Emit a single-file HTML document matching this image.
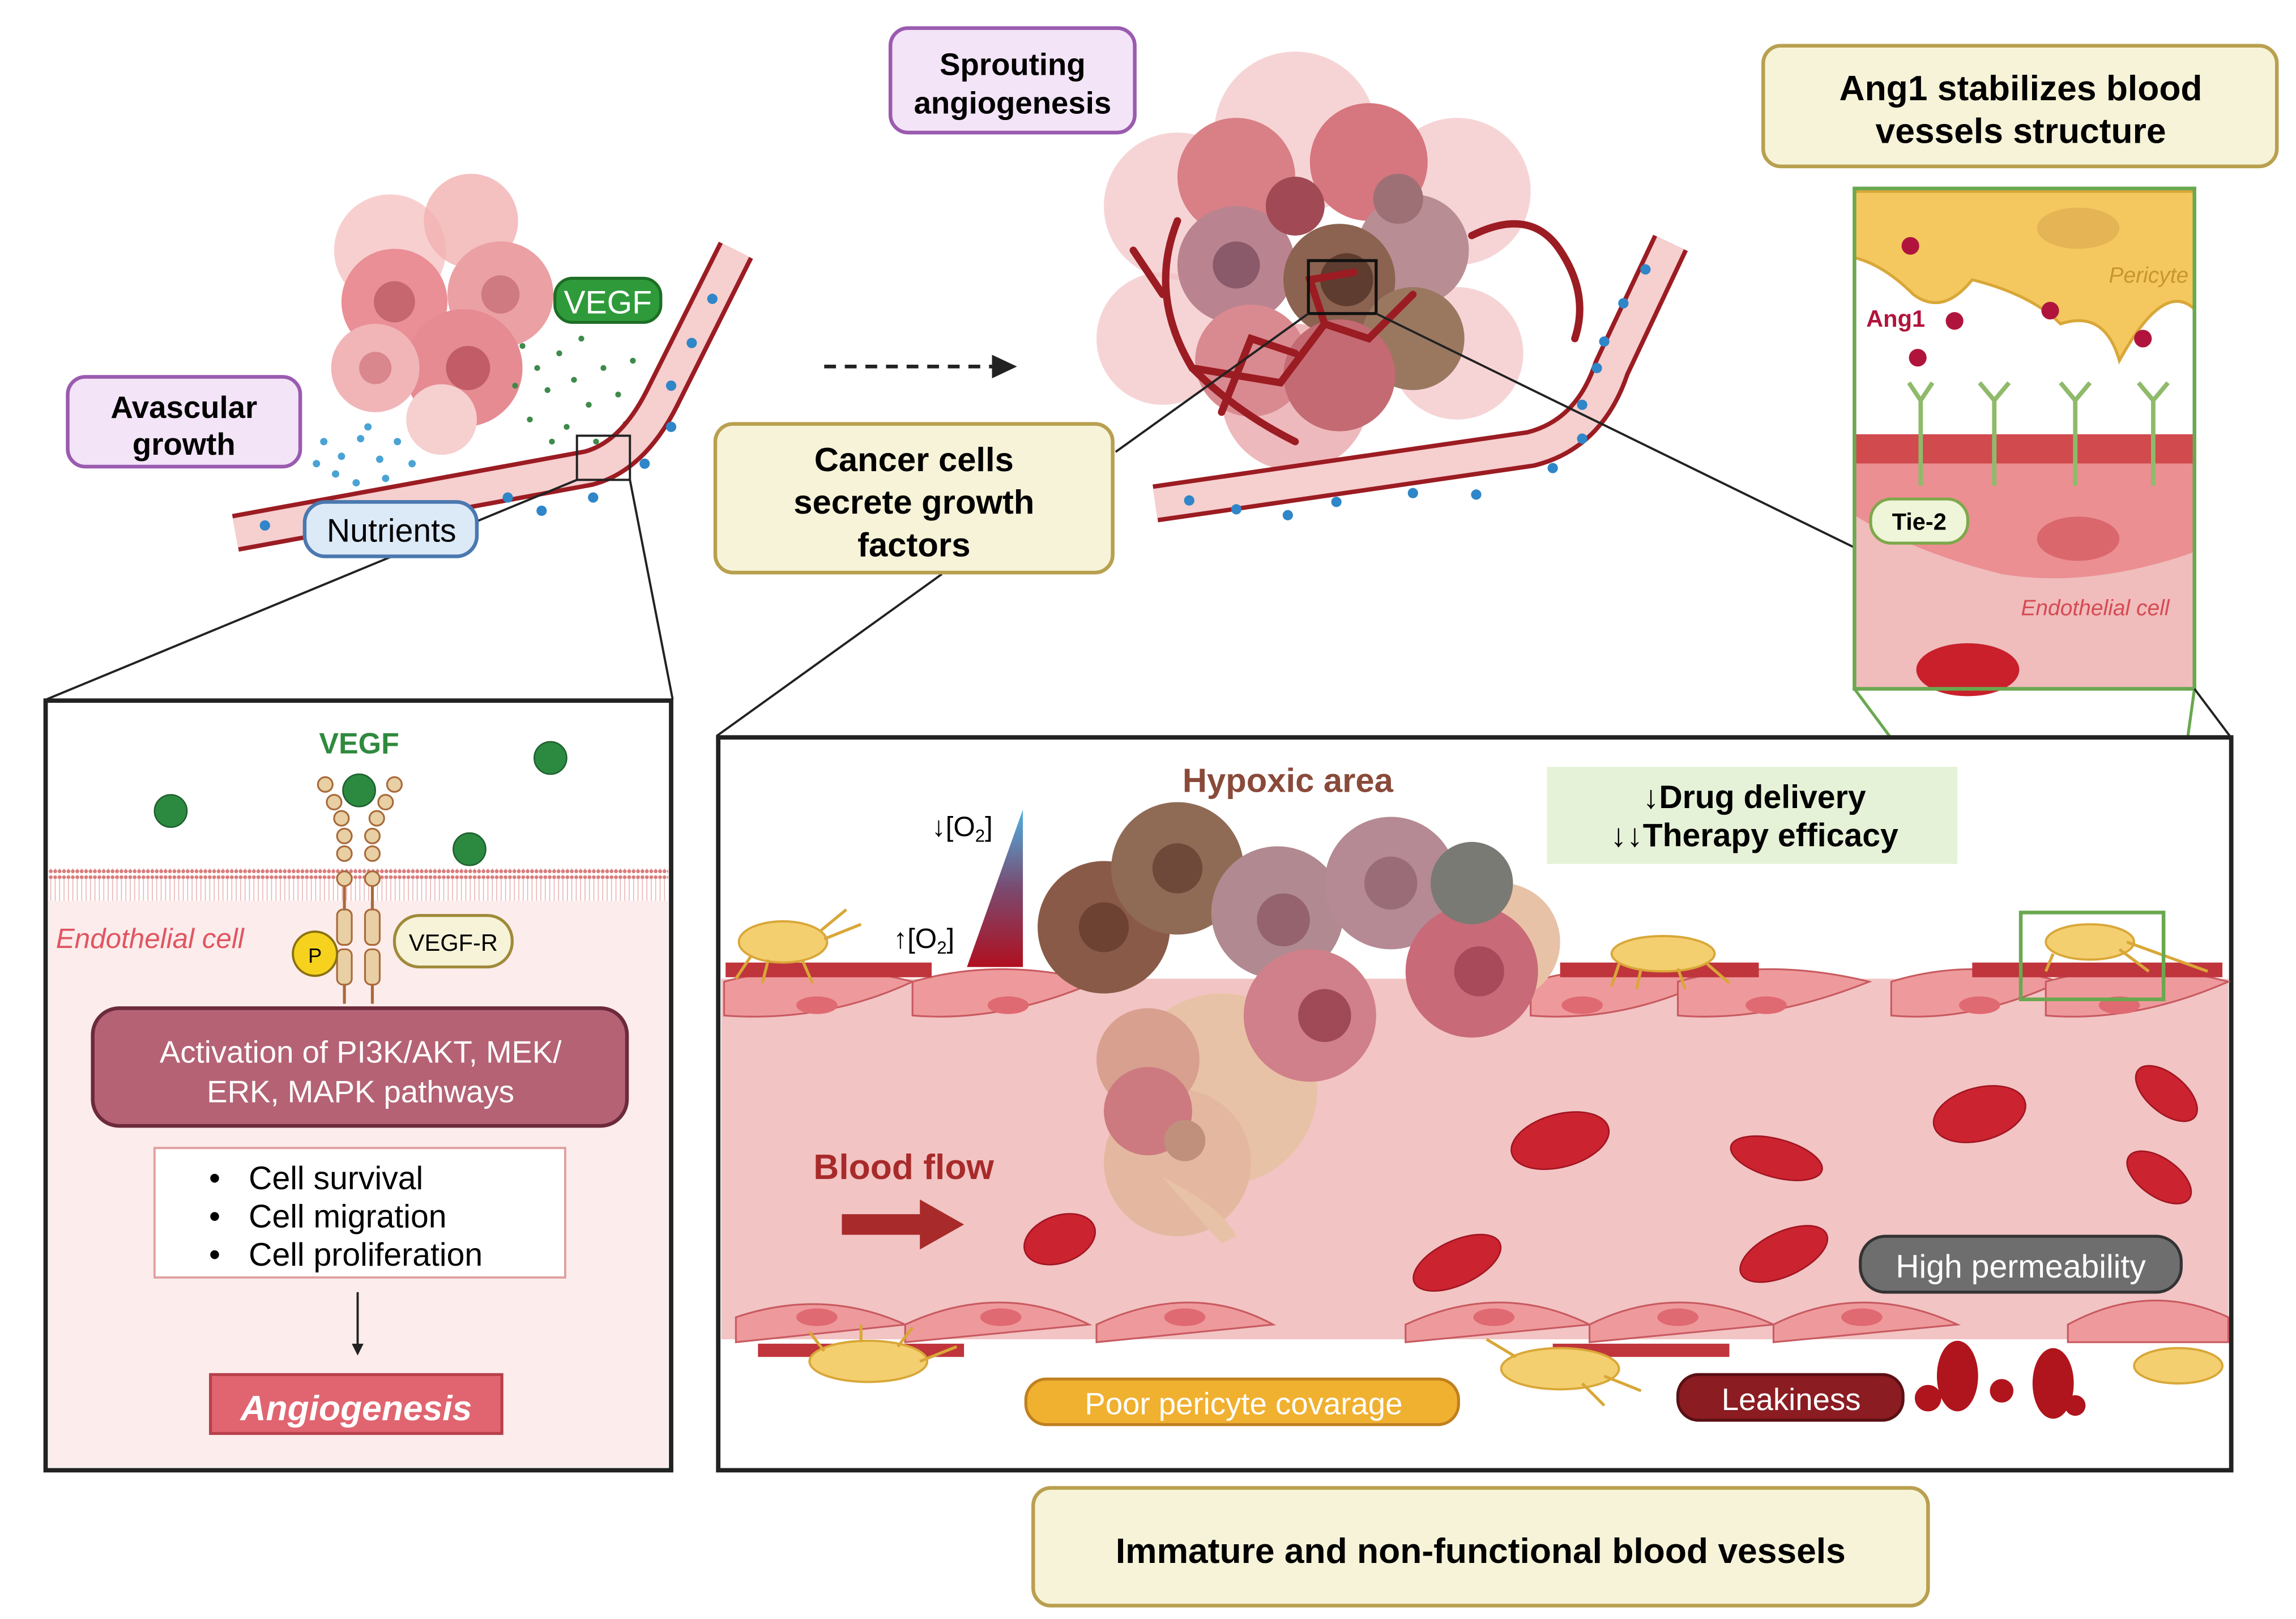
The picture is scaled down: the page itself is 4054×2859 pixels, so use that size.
<!DOCTYPE html>
<html><head><meta charset="utf-8"><style>
html,body{margin:0;padding:0;background:#fff;}
svg{display:block;}
text{font-family:"Liberation Sans",Arial,sans-serif;}
</style></head><body>
<svg width="4054" height="2859" viewBox="0 0 1560 1100" xmlns="http://www.w3.org/2000/svg">
<defs>
<pattern id="mem" width="3" height="22" patternUnits="userSpaceOnUse"><rect width="3" height="22" fill="#fff"/><circle cx="1.5" cy="2" r="1.3" fill="#d97c7c"/><line x1="1.5" y1="3" x2="1.5" y2="19" stroke="#eab0b0" stroke-width="0.6"/><circle cx="1.5" cy="20" r="1.3" fill="#d97c7c"/></pattern>
<linearGradient id="o2" x1="0" y1="0" x2="0" y2="1"><stop offset="0" stop-color="#4fb0e0"/><stop offset="0.5" stop-color="#7a4a70"/><stop offset="1" stop-color="#b01020"/></linearGradient>
</defs>

<!-- ========== TOP LEFT: avascular growth ========== -->
<g>
 <circle cx="265" cy="170" r="38" fill="#f6c3c3" opacity="0.8"/>
 <circle cx="320" cy="150" r="32" fill="#f1b0b0" opacity="0.8"/>
 <circle cx="340" cy="200" r="36" fill="#eba0a3"/>
 <circle cx="268" cy="205" r="36" fill="#e98f95"/>
 <circle cx="315" cy="250" r="40" fill="#e58b91"/>
 <circle cx="255" cy="250" r="30" fill="#f1b5b8"/>
 <circle cx="300" cy="285" r="24" fill="#f6cfcf"/>
 <circle cx="268" cy="205" r="14" fill="#c66770"/>
 <circle cx="340" cy="200" r="13" fill="#cf7a80"/>
 <circle cx="318" cy="250" r="15" fill="#c25c66"/>
 <circle cx="255" cy="250" r="11" fill="#d9868c"/>
</g>
<g fill="#3e8a4a">
 <circle cx="355" cy="235" r="2"/><circle cx="365" cy="250" r="2"/><circle cx="380" cy="240" r="2"/><circle cx="372" cy="265" r="2"/><circle cx="390" cy="258" r="2"/><circle cx="400" cy="275" r="2"/><circle cx="385" cy="290" r="2"/><circle cx="410" cy="250" r="2"/><circle cx="420" cy="268" r="2"/><circle cx="360" cy="285" r="2"/><circle cx="375" cy="300" r="2"/><circle cx="405" cy="300" r="2"/><circle cx="425" cy="288" r="2"/><circle cx="350" cy="262" r="2"/><circle cx="395" cy="230" r="2"/><circle cx="430" cy="245" r="2"/>
</g>
<g fill="#4aa3d4">
 <circle cx="220" cy="300" r="2.5"/><circle cx="232" cy="310" r="2.5"/><circle cx="245" cy="298" r="2.5"/><circle cx="258" cy="312" r="2.5"/><circle cx="270" cy="300" r="2.5"/><circle cx="228" cy="322" r="2.5"/><circle cx="242" cy="328" r="2.5"/><circle cx="262" cy="325" r="2.5"/><circle cx="280" cy="315" r="2.5"/><circle cx="215" cy="315" r="2.5"/><circle cx="250" cy="290" r="2.5"/>
</g>
<path d="M160 362 L400 318 Q430 310 450 270 L500 170" fill="none" stroke="#9b1c22" stroke-width="26" stroke-linejoin="round"/>
<path d="M160 362 L400 318 Q430 310 450 270 L500 170" fill="none" stroke="#f6cfcf" stroke-width="20" stroke-linejoin="round"/>
<g fill="#2f86c8"><circle cx="180" cy="357" r="3.5"/><circle cx="345" cy="338" r="3.5"/><circle cx="368" cy="347" r="3.5"/><circle cx="403" cy="338" r="3.5"/><circle cx="438" cy="315" r="3.5"/><circle cx="456" cy="290" r="3.5"/><circle cx="456" cy="262" r="3.5"/><circle cx="470" cy="233" r="3.5"/><circle cx="484" cy="203" r="3.5"/></g>
<rect x="392" y="296" width="36" height="30" fill="none" stroke="#222" stroke-width="1.5"/>
<line x1="392" y1="326" x2="32" y2="475" stroke="#222" stroke-width="1.5"/>
<line x1="428" y1="326" x2="457" y2="475" stroke="#222" stroke-width="1.5"/>

<rect x="46" y="256" width="158" height="61" rx="12" fill="#f3e4f7" stroke="#9a5bb0" stroke-width="2.5"/>
<text x="125" y="284" font-size="21" font-weight="bold" text-anchor="middle">Avascular</text>
<text x="125" y="309" font-size="21" font-weight="bold" text-anchor="middle">growth</text>
<rect x="377" y="189" width="72" height="30" rx="12" fill="#2f9a3a" stroke="#1c6e25" stroke-width="2"/>
<text x="413" y="213" font-size="22" fill="#fff" text-anchor="middle">VEGF</text>
<rect x="207" y="341" width="117" height="37" rx="14" fill="#dce9f7" stroke="#4a78b0" stroke-width="2.5"/>
<text x="266" y="368" font-size="22" text-anchor="middle">Nutrients</text>

<line x1="560" y1="249" x2="676" y2="249" stroke="#222" stroke-width="2.5" stroke-dasharray="8,6"/>
<polygon points="674,241 691,249 674,257" fill="#222"/>

<!-- ========== TOP MIDDLE ========== -->
<g>
 <circle cx="880" cy="90" r="55" fill="#f2c2c4" opacity="0.7"/>
 <circle cx="800" cy="140" r="50" fill="#f2c2c4" opacity="0.7"/>
 <circle cx="990" cy="130" r="50" fill="#f2c2c4" opacity="0.7"/>
 <circle cx="790" cy="230" r="45" fill="#f2c2c4" opacity="0.7"/>
 <circle cx="990" cy="240" r="45" fill="#f2c2c4" opacity="0.7"/>
 <circle cx="880" cy="270" r="50" fill="#eaa8ab" opacity="0.8"/>
 <circle cx="840" cy="120" r="40" fill="#d97f86"/>
 <circle cx="930" cy="110" r="40" fill="#d6767e"/>
 <circle cx="960" cy="170" r="38" fill="#b88e94"/>
 <circle cx="840" cy="180" r="40" fill="#b9848f"/>
 <circle cx="910" cy="190" r="38" fill="#8c6250"/>
 <circle cx="960" cy="230" r="35" fill="#9a7860"/>
 <circle cx="850" cy="245" r="38" fill="#d98a90"/>
 <circle cx="910" cy="255" r="38" fill="#c46a72"/>
 <circle cx="880" cy="140" r="20" fill="#a14a55"/>
 <circle cx="915" cy="190" r="18" fill="#5e3d30"/>
 <circle cx="840" cy="180" r="16" fill="#8a5a6a"/>
 <circle cx="950" cy="135" r="17" fill="#9d7076"/>
</g>
<g fill="none" stroke="#9b1c22" stroke-width="5" stroke-linecap="round">
 <path d="M800 150 Q780 200 810 250 Q840 280 880 300"/>
 <path d="M810 250 L870 260 L900 220 L930 230 L960 200"/>
 <path d="M900 220 L890 190 L920 185"/>
 <path d="M1000 160 Q1040 140 1060 170 Q1080 200 1070 230"/>
 <path d="M790 200 L770 170"/>
 <path d="M830 280 L850 230 L880 240"/>
</g>
<path d="M785 342 L1040 305 Q1080 295 1095 250 L1135 165" fill="none" stroke="#9b1c22" stroke-width="26" stroke-linejoin="round"/>
<path d="M785 342 L1040 305 Q1080 295 1095 250 L1135 165" fill="none" stroke="#f6cfcf" stroke-width="20" stroke-linejoin="round"/>
<g fill="#2f86c8"><circle cx="808" cy="340" r="3.5"/><circle cx="840" cy="346" r="3.5"/><circle cx="875" cy="350" r="3.5"/><circle cx="908" cy="341" r="3.5"/><circle cx="960" cy="335" r="3.5"/><circle cx="1003" cy="336" r="3.5"/><circle cx="1055" cy="318" r="3.5"/><circle cx="1075" cy="298" r="3.5"/><circle cx="1075" cy="275" r="3.5"/><circle cx="1085" cy="250" r="3.5"/><circle cx="1090" cy="232" r="3.5"/><circle cx="1103" cy="206" r="3.5"/><circle cx="1118" cy="183" r="3.5"/></g>
<rect x="889" y="177" width="46" height="36" fill="none" stroke="#111" stroke-width="2"/>
<line x1="889" y1="213" x2="758" y2="307" stroke="#222" stroke-width="1.5"/>
<line x1="935" y1="213" x2="1260" y2="372" stroke="#222" stroke-width="1.5"/>
<line x1="640" y1="390" x2="487" y2="500" stroke="#222" stroke-width="1.5"/>

<rect x="605" y="19" width="166" height="71" rx="12" fill="#f3e4f7" stroke="#9a5bb0" stroke-width="2.5"/>
<text x="688" y="51" font-size="21" font-weight="bold" text-anchor="middle">Sprouting</text>
<text x="688" y="77" font-size="21" font-weight="bold" text-anchor="middle">angiogenesis</text>

<rect x="486" y="288" width="270" height="101" rx="12" fill="#f6f3d8" stroke="#b9a04f" stroke-width="2.5"/>
<text x="621" y="320" font-size="23" font-weight="bold" text-anchor="middle">Cancer cells</text>
<text x="621" y="349" font-size="23" font-weight="bold" text-anchor="middle">secrete growth</text>
<text x="621" y="378" font-size="23" font-weight="bold" text-anchor="middle">factors</text>

<rect x="1198" y="31" width="349" height="82" rx="12" fill="#f6f3d8" stroke="#b9a04f" stroke-width="2.5"/>
<text x="1373" y="68" font-size="24" font-weight="bold" text-anchor="middle">Ang1 stabilizes blood</text>
<text x="1373" y="97" font-size="24" font-weight="bold" text-anchor="middle">vessels structure</text>

<!-- ========== INSET ========== -->
<g>
 <rect x="1260" y="128" width="231" height="340" fill="#fff"/>
 <path d="M1260 130 L1491 130 L1491 210 Q1470 190 1440 245 Q1430 210 1400 220 Q1380 200 1340 190 Q1320 215 1300 200 Q1280 180 1260 175 Z" fill="#f4c85e" stroke="#d9a738" stroke-width="2"/>
 <ellipse cx="1412" cy="155" rx="28" ry="14" fill="#e5b455"/>
 <text x="1487" y="192" font-size="15" font-style="italic" fill="#c9952e" text-anchor="end">Pericyte</text>
 <rect x="1260" y="295" width="231" height="20" fill="#d04a4e"/>
 <rect x="1260" y="315" width="231" height="153" fill="#f0bcbc"/>
 <path d="M1260 315 L1491 315 L1491 375 Q1420 400 1360 390 Q1300 375 1260 350 Z" fill="#eb8f92"/>
 <ellipse cx="1412" cy="366" rx="28" ry="15" fill="#d9676c"/>
 <ellipse cx="1337" cy="455" rx="35" ry="18" fill="#c9202c"/>
 <text x="1474" y="418" font-size="15" font-style="italic" fill="#d64a52" text-anchor="end">Endothelial cell</text>
 <g fill="#b0143c"><circle cx="1298" cy="167" r="6"/><circle cx="1328" cy="218" r="6"/><circle cx="1303" cy="243" r="6"/><circle cx="1393" cy="211" r="6"/><circle cx="1456" cy="230" r="6"/></g>
 <text x="1268" y="222" font-size="16" font-weight="bold" fill="#b0143c">Ang1</text>
 <g stroke="#8fba6a" stroke-width="3" fill="none">
  <path d="M1297 260 L1305 272 L1313 260 M1305 272 L1305 330"/>
  <path d="M1345 260 L1355 272 L1365 260 M1355 272 L1355 330"/>
  <path d="M1400 260 L1410 272 L1420 260 M1410 272 L1410 330"/>
  <path d="M1453 260 L1463 272 L1473 260 M1463 272 L1463 330"/>
 </g>
 <rect x="1271" y="339" width="66" height="30" rx="14" fill="#eef5d9" stroke="#7ea84a" stroke-width="2"/>
 <text x="1304" y="360" font-size="16" font-weight="bold" text-anchor="middle">Tie-2</text>
 <rect x="1260" y="128" width="231" height="340" fill="none" stroke="#6aa84f" stroke-width="2.5"/>
</g>
<line x1="1260" y1="468" x2="1373" y2="620" stroke="#6aa84f" stroke-width="2"/>
<line x1="1491" y1="468" x2="1470" y2="620" stroke="#6aa84f" stroke-width="2"/>
<line x1="1491" y1="468" x2="1515" y2="500" stroke="#222" stroke-width="1.5"/>

<!-- ========== LEFT PANEL ========== -->
<rect x="31" y="476" width="425" height="523" fill="#fff" stroke="#222" stroke-width="3"/>
<rect x="33" y="600" width="421" height="397" fill="#fcecec"/>
<rect x="33" y="590" width="421" height="22" fill="url(#mem)"/>
<text x="244" y="512" font-size="20" font-weight="bold" fill="#2f8a3e" text-anchor="middle">VEGF</text>
<g fill="#2c8a40" stroke="#1f6030" stroke-width="1"><circle cx="116" cy="551" r="11"/><circle cx="244" cy="537" r="11"/><circle cx="374" cy="515" r="11"/><circle cx="319" cy="577" r="11"/></g>
<g fill="#e8cfa4" stroke="#a86a3a" stroke-width="1.2">
 <circle cx="221" cy="533" r="5"/><circle cx="227" cy="545" r="5"/><circle cx="232" cy="556" r="5"/><circle cx="234" cy="568" r="5"/><circle cx="234" cy="580" r="5"/><circle cx="234" cy="597" r="5"/>
 <circle cx="268" cy="533" r="5"/><circle cx="262" cy="545" r="5"/><circle cx="256" cy="556" r="5"/><circle cx="253" cy="568" r="5"/><circle cx="253" cy="580" r="5"/><circle cx="253" cy="597" r="5"/>
 <rect x="229" y="618" width="10" height="24" rx="4"/><rect x="248" y="618" width="10" height="24" rx="4"/>
 <rect x="229" y="645" width="10" height="24" rx="4"/><rect x="248" y="645" width="10" height="24" rx="4"/>
</g>
<g stroke="#a86a3a" stroke-width="2"><line x1="234" y1="602" x2="234" y2="618"/><line x1="253" y1="602" x2="253" y2="618"/><line x1="234" y1="669" x2="234" y2="682"/><line x1="253" y1="669" x2="253" y2="682"/></g>
<circle cx="214" cy="648" r="15" fill="#f6d21e" stroke="#8a7010" stroke-width="1.5"/>
<text x="214" y="654" font-size="14" text-anchor="middle">P</text>
<rect x="268" y="622" width="80" height="35" rx="17" fill="#f6f3d8" stroke="#a08a3a" stroke-width="2"/>
<text x="308" y="646" font-size="16" text-anchor="middle">VEGF-R</text>
<text x="38" y="644" font-size="19" font-style="italic" fill="#e05560">Endothelial cell</text>
<rect x="63" y="685" width="363" height="80" rx="18" fill="#b46274" stroke="#6c2a3a" stroke-width="2.5"/>
<text x="245" y="722" font-size="21" fill="#fff" text-anchor="middle">Activation of PI3K/AKT, MEK/</text>
<text x="245" y="749" font-size="21" fill="#fff" text-anchor="middle">ERK, MAPK pathways</text>
<rect x="105" y="780" width="279" height="88" fill="#fff" stroke="#e0a0a0" stroke-width="1.5"/>
<g font-size="22"><text x="142" y="808">•</text><text x="142" y="834">•</text><text x="142" y="860">•</text>
<text x="169" y="808">Cell survival</text><text x="169" y="834">Cell migration</text><text x="169" y="860">Cell proliferation</text></g>
<line x1="243" y1="878" x2="243" y2="915" stroke="#222" stroke-width="1.5"/>
<polygon points="239,913 243,921 247,913" fill="#222"/>
<rect x="143" y="934" width="198" height="40" fill="#e06570" stroke="#b8404a" stroke-width="2"/>
<text x="242" y="965" font-size="24" font-weight="bold" font-style="italic" fill="#fff" text-anchor="middle">Angiogenesis</text>

<!-- ========== RIGHT PANEL ========== -->
<rect x="488" y="501" width="1028" height="498" fill="#fff" stroke="#222" stroke-width="3"/>
<rect x="490" y="665" width="1024" height="245" fill="#f2c4c4"/>
<g fill="#ee9a9c" stroke="#c85a60" stroke-width="1.2">
 <path d="M492 667 Q555 650 620 667 Q560 695 492 690 Z"/>
 <path d="M620 667 Q680 650 745 667 Q680 695 620 690 Z"/>
 <path d="M1040 667 Q1100 650 1160 667 Q1100 695 1040 690 Z"/>
 <path d="M1140 667 Q1200 650 1270 667 Q1200 695 1140 690 Z"/>
 <path d="M1285 667 Q1340 650 1400 667 Q1340 695 1285 690 Z"/>
 <path d="M1390 667 Q1450 650 1514 667 Q1450 695 1390 690 Z"/>
</g>
<g fill="#e06a72"><ellipse cx="555" cy="683" rx="14" ry="6"/><ellipse cx="685" cy="683" rx="14" ry="6"/><ellipse cx="1075" cy="683" rx="14" ry="6"/><ellipse cx="1200" cy="683" rx="14" ry="6"/><ellipse cx="1345" cy="683" rx="14" ry="6"/><ellipse cx="1440" cy="683" rx="14" ry="6"/></g>
<g fill="#c0343c"><rect x="493" y="654" width="140" height="10"/><rect x="1060" y="654" width="135" height="10"/><rect x="1340" y="654" width="170" height="10"/></g>
<g fill="#ee9a9c" stroke="#c85a60" stroke-width="1.2">
 <path d="M500 895 Q560 875 615 900 L500 912Z"/>
 <path d="M615 900 Q680 870 740 900 L615 912Z"/>
 <path d="M745 900 Q810 870 865 900 L745 912Z"/>
 <path d="M955 900 Q1020 870 1080 900 L955 912Z"/>
 <path d="M1080 900 Q1140 870 1205 900 L1080 912Z"/>
 <path d="M1205 900 Q1265 870 1330 900 L1205 912Z"/>
 <path d="M1405 900 Q1460 870 1514 895 L1514 912 L1405 912Z"/>
</g>
<g fill="#e06a72"><ellipse cx="555" cy="895" rx="14" ry="6"/><ellipse cx="680" cy="895" rx="14" ry="6"/><ellipse cx="805" cy="895" rx="14" ry="6"/><ellipse cx="1015" cy="895" rx="14" ry="6"/><ellipse cx="1140" cy="895" rx="14" ry="6"/><ellipse cx="1265" cy="895" rx="14" ry="6"/></g>
<g fill="#c0343c"><rect x="515" y="913" width="140" height="9"/><rect x="1055" y="913" width="120" height="9"/></g>
<g fill="#f4cf70" stroke="#d9a738" stroke-width="1.5">
 <ellipse cx="532" cy="640" rx="30" ry="14"/>
 <ellipse cx="1130" cy="648" rx="35" ry="12"/>
 <ellipse cx="1420" cy="640" rx="30" ry="12"/>
 <ellipse cx="590" cy="925" rx="40" ry="14"/>
 <ellipse cx="1060" cy="930" rx="40" ry="14"/>
 <ellipse cx="1480" cy="928" rx="30" ry="12"/>
</g>
<g stroke="#d9a738" stroke-width="2" fill="none">
 <path d="M510 650 L500 665 M522 652 L518 668 M545 652 L552 668 M560 638 L585 628 M558 632 L575 618"/>
 <path d="M1100 655 L1095 670 M1115 658 L1112 672 M1140 658 L1145 672 M1160 655 L1175 668"/>
 <path d="M1395 648 L1390 660 M1440 645 L1460 660 M1445 640 L1500 660"/>
 <path d="M560 918 L550 905 M585 912 L585 900 M610 915 L620 902 M625 925 L650 915"/>
 <path d="M1030 922 L1010 910 M1090 935 L1115 945 M1075 940 L1090 955"/>
</g>
<g fill="#cc2330" stroke="#a01520" stroke-width="1">
 <ellipse cx="720" cy="842" rx="25" ry="16" transform="rotate(-20 720 842)"/>
 <ellipse cx="1060" cy="775" rx="34" ry="18" transform="rotate(-15 1060 775)"/>
 <ellipse cx="1207" cy="787" rx="32" ry="13" transform="rotate(15 1207 787)"/>
 <ellipse cx="1345" cy="757" rx="32" ry="18" transform="rotate(-15 1345 757)"/>
 <ellipse cx="1472" cy="743" rx="25" ry="13" transform="rotate(40 1472 743)"/>
 <ellipse cx="1467" cy="800" rx="25" ry="13" transform="rotate(35 1467 800)"/>
 <ellipse cx="990" cy="858" rx="32" ry="15" transform="rotate(-25 990 858)"/>
 <ellipse cx="1212" cy="852" rx="32" ry="15" transform="rotate(-25 1212 852)"/>
</g>
<g>
 <circle cx="830" cy="740" r="65" fill="#e8c2a6"/>
 <circle cx="800" cy="790" r="50" fill="#e4b8a0"/>
 <path d="M790 800 Q830 820 840 840 L830 845 Z" fill="#e8c2a6"/>
 <circle cx="1020" cy="640" r="40" fill="#e8c2a6"/>
 <circle cx="750" cy="630" r="45" fill="#8a5a48"/>
 <circle cx="800" cy="590" r="45" fill="#8f6a55"/>
 <circle cx="868" cy="620" r="45" fill="#b08a90"/>
 <circle cx="945" cy="600" r="45" fill="#b58a94"/>
 <circle cx="890" cy="690" r="45" fill="#d0808a"/>
 <circle cx="1000" cy="660" r="45" fill="#c86a78"/>
 <circle cx="780" cy="720" r="35" fill="#d8a08e"/>
 <circle cx="780" cy="755" r="30" fill="#cc7a80"/>
 <circle cx="1000" cy="600" r="28" fill="#7a7a74"/>
 <circle cx="750" cy="630" r="17" fill="#6e4232"/>
 <circle cx="800" cy="590" r="17" fill="#6e4838"/>
 <circle cx="872" cy="625" r="18" fill="#95636e"/>
 <circle cx="945" cy="600" r="18" fill="#9a6c78"/>
 <circle cx="900" cy="690" r="18" fill="#a04a58"/>
 <circle cx="1005" cy="660" r="17" fill="#a84a5a"/>
 <circle cx="805" cy="775" r="14" fill="#c0907c"/>
</g>
<polygon points="695,550 695,657 657,657" fill="url(#o2)"/>
<text x="633" y="568" font-size="19">↓[O<tspan font-size="12" dy="4">2</tspan><tspan dy="-4">]</tspan></text>
<text x="607" y="644" font-size="19">↑[O<tspan font-size="12" dy="4">2</tspan><tspan dy="-4">]</tspan></text>
<text x="875" y="538" font-size="23" font-weight="bold" fill="#8a4a3a" text-anchor="middle">Hypoxic area</text>
<rect x="1051" y="521" width="279" height="66" fill="#e6f2d8"/>
<text x="1192" y="549" font-size="22" font-weight="bold" text-anchor="middle">↓Drug delivery</text>
<text x="1192" y="575" font-size="22" font-weight="bold" text-anchor="middle">↓↓Therapy efficacy</text>
<text x="614" y="801" font-size="24" font-weight="bold" fill="#a82a2a" text-anchor="middle">Blood flow</text>
<polygon points="572,825 625,825 625,815 655,832 625,849 625,839 572,839" fill="#a82a2a"/>
<rect x="1264" y="840" width="218" height="38" rx="17" fill="#6e6e6e" stroke="#333" stroke-width="2"/>
<text x="1373" y="868" font-size="22" fill="#fff" text-anchor="middle">High permeability</text>
<rect x="697" y="937" width="294" height="31" rx="14" fill="#f0b030" stroke="#c08020" stroke-width="2"/>
<text x="845" y="961" font-size="21" fill="#fff" text-anchor="middle">Poor pericyte covarage</text>
<rect x="1140" y="934" width="153" height="31" rx="14" fill="#8a1c22" stroke="#5a1014" stroke-width="2"/>
<text x="1217" y="958" font-size="21" fill="#fff" text-anchor="middle">Leakiness</text>
<g fill="#b0141c"><ellipse cx="1330" cy="935" rx="14" ry="24"/><ellipse cx="1395" cy="940" rx="14" ry="24"/><circle cx="1310" cy="950" r="9"/><circle cx="1360" cy="945" r="8"/><circle cx="1410" cy="955" r="7"/></g>
<rect x="1373" y="620" width="97" height="59" fill="none" stroke="#6aa84f" stroke-width="2.5"/>

<rect x="702" y="1011" width="608" height="80" rx="12" fill="#f6f3d8" stroke="#b9a04f" stroke-width="2.5"/>
<text x="1006" y="1062" font-size="24" font-weight="bold" text-anchor="middle">Immature and non-functional blood vessels</text>
</svg>
</body></html>
